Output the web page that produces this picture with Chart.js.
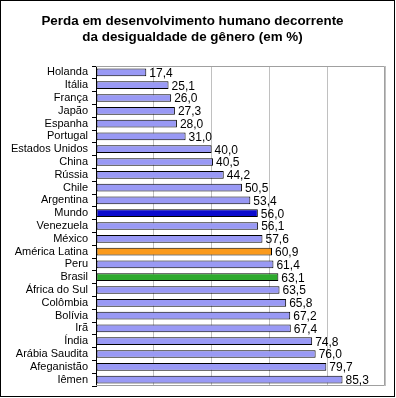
<!DOCTYPE html>
<html>
<head>
<meta charset="utf-8">
<script src="https://cdn.jsdelivr.net/npm/chart.js@4"></script>
<style>
  html, body { margin: 0; padding: 0; background: #fff; }
  #wrap { width: 396px; height: 398px; }
</style>
</head>
<body>
<div id="wrap"><canvas id="grafico" width="396" height="398"></canvas></div>
<script>
const paises = ['Holanda', 'Itália', 'França', 'Japão', 'Espanha', 'Portugal', 'Estados Unidos', 'China',
    'Rússia', 'Chile', 'Argentina', 'Mundo', 'Venezuela', 'México', 'América Latina', 'Peru', 'Brasil',
    'África do Sul', 'Colômbia', 'Bolívia', 'Irã', 'Índia', 'Arábia Saudita', 'Afeganistão', 'Iêmen'];
const perda = [17.4, 25.1, 26.0, 27.3, 28.0, 31.0, 40.0, 40.5, 44.2, 50.5, 53.4, 56.0, 56.1, 57.6,
    60.9, 61.4, 63.1, 63.5, 65.8, 67.2, 67.4, 74.8, 76.0, 79.7, 85.3];
const destaques = { 'Mundo': '#0a0acd', 'América Latina': '#fa9a1c', 'Brasil': '#2eaa2e' };

const coresBarras = paises.map(p => destaques[p] || '#9999f5');

// rótulos de valor no fim das barras
const rotulos = {
    id: 'rotulos',
    afterDatasetsDraw(chart) {
        const ctx = chart.ctx;
        const meta = chart.getDatasetMeta(0);
        ctx.save();
        ctx.font = '12px Arial, "Liberation Sans"';
        ctx.fillStyle = '#000';
        ctx.textAlign = 'left';
        ctx.textBaseline = 'middle';
        meta.data.forEach((bar, i) => {
            ctx.fillText(perda[i].toFixed(1).replace('.', ','), bar.x + 3, bar.y + 1);
        });
        ctx.restore();
    }
};

// moldura cinza da área do gráfico e borda preta externa
const moldura = {
    id: 'moldura',
    beforeDatasetsDraw(chart) {
        const { ctx, chartArea: a } = chart;
        ctx.save();
        ctx.strokeStyle = '#a0a0a0';
        ctx.lineWidth = 1;
        ctx.beginPath();
        ctx.moveTo(a.left, a.top + 0.5);
        ctx.lineTo(a.right - 0.5, a.top + 0.5);
        ctx.lineTo(a.right - 0.5, a.bottom - 0.5);
        ctx.lineTo(a.left, a.bottom - 0.5);
        ctx.stroke();
        ctx.restore();
    },
    afterDraw(chart) {
        const ctx = chart.ctx;
        ctx.save();
        ctx.strokeStyle = '#000';
        ctx.lineWidth = 1;
        ctx.strokeRect(0.5, 0.5, 394, 396);
        ctx.restore();
    }
};

new Chart(document.getElementById('grafico').getContext('2d'), {
    type: 'bar',
    data: {
        labels: paises,
        datasets: [{
            data: perda,
            backgroundColor: coresBarras,
            borderColor: '#000',
            borderWidth: 1,
            borderSkipped: false,
            barPercentage: 0.6,
            categoryPercentage: 1
        }]
    },
    options: {
        indexAxis: 'y',
        responsive: false,
        animation: false,
        devicePixelRatio: 1,
        layout: { padding: { left: 0, right: 11, top: 0, bottom: 12 } },
        plugins: {
            legend: { display: false },
            tooltip: { enabled: false },
            title: {
                display: true,
                text: ['Perda em desenvolvimento humano decorrente', 'da desigualdade de gênero (em %)'],
                color: '#000',
                font: { family: 'Arial, "Liberation Sans"', size: 13.4, weight: 'bold', lineHeight: '16px' },
                padding: { top: 13, bottom: 21 }
            }
        },
        scales: {
            x: {
                min: 0,
                max: 100,
                ticks: { display: false, stepSize: 20 },
                border: { display: false },
                grid: {
                    color: c => (c.tick && c.tick.value === 0) ? 'rgba(0,0,0,0)' : '#c0c0c0',
                    drawTicks: false
                },
                afterFit(s) { s.height = 0; }
            },
            y: {
                offset: true,
                border: { display: true, color: '#000', width: 1 },
                grid: {
                    offset: true,
                    drawOnChartArea: false,
                    color: '#000',
                    tickLength: 4
                },
                ticks: {
                    color: '#000',
                    padding: 4,
                    autoSkip: false,
                    font: { family: 'Arial, "Liberation Sans"', size: 11 }
                },
                afterFit(s) { s.width = 96; }
            }
        }
    },
    plugins: [moldura, rotulos]
});
</script>
</body>
</html>
